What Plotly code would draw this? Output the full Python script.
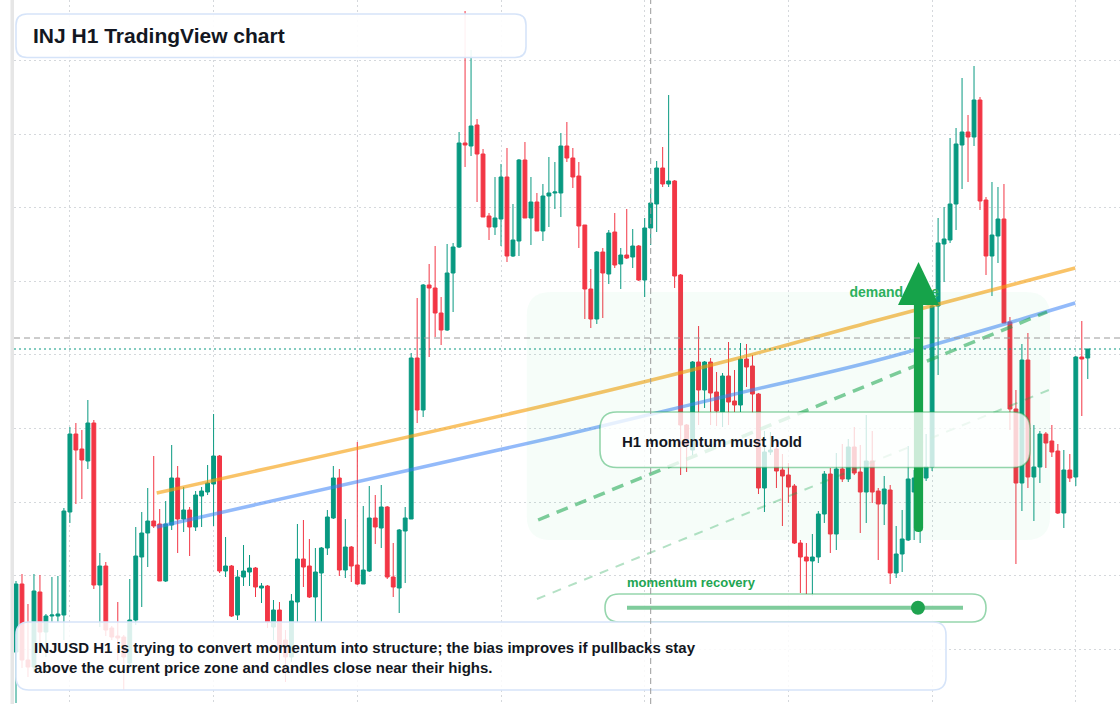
import plotly.graph_objects as go
import pandas as pd

# ---------------- data ----------------
START = "2025-03-10 15:00"
N_CANDLES = 180
times = pd.date_range(START, periods=N_CANDLES, freq="h")

open_ = [13.348, 13.416, 13.340, 13.333, 13.408, 13.368, 13.384, 13.384, 13.385, 13.488,
         13.566, 13.551, 13.539, 13.577, 13.415, 13.434, 13.372, 13.364, 13.363, 13.337,
         13.380, 13.443, 13.467, 13.479, 13.476, 13.419, 13.475, 13.522, 13.481, 13.490,
         13.473, 13.504, 13.508, 13.516, 13.544, 13.429, 13.434, 13.385, 13.423, 13.428,
         13.432, 13.412, 13.414, 13.373, 13.390, 13.360, 13.343, 13.398, 13.441, 13.434,
         13.403, 13.427, 13.452, 13.482, 13.522, 13.430, 13.453, 13.435, 13.416, 13.429,
         13.482, 13.472, 13.493, 13.423, 13.412, 13.469, 13.481, 13.642, 13.590, 13.715,
         13.712, 13.687, 13.670, 13.727, 13.753, 13.857, 13.854, 13.875, 13.846, 13.784,
         13.773, 13.781, 13.823, 13.744, 13.759, 13.840, 13.782, 13.798, 13.769, 13.804,
         13.807, 13.807, 13.854, 13.842, 13.824, 13.775, 13.711, 13.681, 13.748, 13.726,
         13.768, 13.736, 13.745, 13.743, 13.754, 13.720, 13.772, 13.796, 13.832, 13.816,
         13.819, 13.725, 13.575, 13.550, 13.638, 13.610, 13.638, 13.608, 13.588, 13.624,
         13.599, 13.595, 13.641, 13.634, 13.606, 13.512, 13.548, 13.551, 13.530, 13.525,
         13.514, 13.457, 13.443, 13.439, 13.443, 13.486, 13.526, 13.466, 13.531, 13.521,
         13.553, 13.528, 13.508, 13.539, 13.509, 13.496, 13.510, 13.427, 13.446, 13.460,
         13.508, 13.515, 13.522, 13.533, 13.694, 13.756, 13.760, 13.796, 13.855, 13.868,
         13.863, 13.900, 13.800, 13.744, 13.764, 13.781, 13.678, 13.591, 13.517, 13.640,
         13.523, 13.533, 13.566, 13.559, 13.549, 13.487, 13.530, 13.523, 13.643, 13.642]

high = [13.419, 13.426, 13.396, 13.426, 13.425, 13.386, 13.423, 13.424, 13.492, 13.573,
        13.577, 13.570, 13.600, 13.580, 13.447, 13.438, 13.374, 13.398, 13.365, 13.421,
        13.473, 13.488, 13.512, 13.544, 13.491, 13.499, 13.555, 13.534, 13.513, 13.493,
        13.509, 13.513, 13.535, 13.586, 13.545, 13.463, 13.435, 13.430, 13.455, 13.445,
        13.433, 13.417, 13.415, 13.400, 13.398, 13.370, 13.406, 13.476, 13.480, 13.461,
        13.452, 13.453, 13.490, 13.534, 13.531, 13.481, 13.454, 13.558, 13.494, 13.514,
        13.505, 13.515, 13.494, 13.457, 13.471, 13.493, 13.647, 13.702, 13.716, 13.736,
        13.754, 13.703, 13.756, 13.757, 13.868, 13.989, 13.950, 13.881, 13.851, 13.787,
        13.823, 13.836, 13.852, 13.796, 13.841, 13.858, 13.823, 13.807, 13.816, 13.843,
        13.838, 13.867, 13.878, 13.852, 13.838, 13.775, 13.731, 13.749, 13.752, 13.770,
        13.787, 13.752, 13.791, 13.771, 13.755, 13.782, 13.811, 13.839, 13.853, 13.905,
        13.820, 13.726, 13.576, 13.639, 13.674, 13.639, 13.642, 13.628, 13.627, 13.658,
        13.630, 13.657, 13.656, 13.645, 13.607, 13.569, 13.568, 13.560, 13.546, 13.537,
        13.516, 13.460, 13.457, 13.466, 13.489, 13.529, 13.532, 13.547, 13.556, 13.561,
        13.573, 13.555, 13.585, 13.569, 13.512, 13.524, 13.515, 13.474, 13.490, 13.554,
        13.530, 13.532, 13.566, 13.700, 13.782, 13.793, 13.862, 13.872, 13.922, 13.885,
        13.934, 13.903, 13.803, 13.818, 13.813, 13.816, 13.683, 13.610, 13.656, 13.667,
        13.575, 13.569, 13.568, 13.575, 13.556, 13.550, 13.546, 13.644, 13.679, 13.651]

low = [13.297, 13.332, 13.323, 13.328, 13.352, 13.343, 13.378, 13.378, 13.360, 13.477,
       13.496, 13.501, 13.531, 13.411, 13.373, 13.364, 13.360, 13.340, 13.310, 13.335,
       13.375, 13.393, 13.433, 13.472, 13.419, 13.418, 13.470, 13.447, 13.468, 13.444,
       13.469, 13.473, 13.505, 13.474, 13.427, 13.423, 13.383, 13.380, 13.414, 13.414,
       13.403, 13.397, 13.372, 13.360, 13.340, 13.318, 13.338, 13.378, 13.413, 13.402,
       13.378, 13.378, 13.445, 13.481, 13.424, 13.422, 13.418, 13.415, 13.416, 13.428,
       13.456, 13.452, 13.421, 13.403, 13.387, 13.417, 13.481, 13.577, 13.583, 13.643,
       13.663, 13.655, 13.669, 13.688, 13.752, 13.833, 13.844, 13.798, 13.783, 13.760,
       13.765, 13.754, 13.738, 13.743, 13.744, 13.782, 13.755, 13.769, 13.759, 13.773,
       13.791, 13.783, 13.838, 13.812, 13.752, 13.681, 13.672, 13.676, 13.682, 13.716,
       13.732, 13.711, 13.741, 13.732, 13.719, 13.703, 13.755, 13.768, 13.813, 13.813,
       13.712, 13.525, 13.528, 13.545, 13.575, 13.592, 13.575, 13.574, 13.573, 13.575,
       13.588, 13.588, 13.613, 13.587, 13.506, 13.488, 13.545, 13.512, 13.474, 13.497,
       13.456, 13.407, 13.406, 13.404, 13.437, 13.477, 13.447, 13.450, 13.518, 13.518,
       13.525, 13.467, 13.477, 13.497, 13.440, 13.475, 13.416, 13.422, 13.428, 13.459,
       13.460, 13.457, 13.519, 13.529, 13.625, 13.718, 13.757, 13.770, 13.811, 13.818,
       13.854, 13.790, 13.725, 13.704, 13.737, 13.677, 13.570, 13.436, 13.489, 13.512,
       13.479, 13.517, 13.532, 13.543, 13.486, 13.472, 13.518, 13.514, 13.584, 13.621]

close = [13.416, 13.340, 13.333, 13.409, 13.368, 13.384, 13.385, 13.386, 13.489, 13.566,
         13.550, 13.540, 13.577, 13.415, 13.434, 13.370, 13.363, 13.362, 13.343, 13.380,
         13.444, 13.467, 13.479, 13.474, 13.419, 13.476, 13.522, 13.481, 13.490, 13.473,
         13.505, 13.509, 13.517, 13.544, 13.429, 13.434, 13.384, 13.423, 13.429, 13.432,
         13.413, 13.414, 13.378, 13.390, 13.350, 13.343, 13.399, 13.441, 13.433, 13.403,
         13.428, 13.452, 13.483, 13.522, 13.430, 13.453, 13.434, 13.416, 13.430, 13.482,
         13.473, 13.493, 13.423, 13.413, 13.470, 13.482, 13.642, 13.590, 13.715, 13.712,
         13.687, 13.670, 13.727, 13.753, 13.857, 13.855, 13.874, 13.846, 13.783, 13.773,
         13.782, 13.823, 13.744, 13.760, 13.840, 13.782, 13.798, 13.769, 13.804, 13.807,
         13.808, 13.854, 13.842, 13.823, 13.774, 13.711, 13.681, 13.748, 13.727, 13.767,
         13.735, 13.745, 13.742, 13.754, 13.720, 13.772, 13.797, 13.832, 13.816, 13.819,
         13.724, 13.575, 13.555, 13.638, 13.610, 13.638, 13.607, 13.589, 13.624, 13.598,
         13.595, 13.641, 13.633, 13.606, 13.512, 13.548, 13.550, 13.529, 13.524, 13.513,
         13.457, 13.443, 13.439, 13.443, 13.486, 13.526, 13.466, 13.531, 13.521, 13.553,
         13.527, 13.508, 13.539, 13.508, 13.496, 13.511, 13.427, 13.446, 13.461, 13.521,
         13.522, 13.524, 13.533, 13.694, 13.757, 13.761, 13.796, 13.856, 13.868, 13.863,
         13.900, 13.799, 13.744, 13.765, 13.781, 13.677, 13.591, 13.517, 13.640, 13.523,
         13.533, 13.566, 13.557, 13.548, 13.487, 13.530, 13.522, 13.643, 13.641, 13.651]

# trend lines (hours since START, price)
orange_hours = [23.5, 90.9, 119.4, 144.0, 176.9]
orange_price = [13.507, 13.598, 13.640, 13.680, 13.732]
blue_hours = [23.5, 90.9, 119.4, 144.0, 176.9]
blue_price = [13.473, 13.564, 13.605, 13.640, 13.697]
channel_hours = [87.2, 172.2]
channel_price = [13.480, 13.688]
channel2_hours = [87.0, 172.5]
channel2_price = [13.401, 13.610]

demand_hours = [85.3, 172.7]
demand_price = [13.460, 13.708]
demand_label_hours = 139.2
demand_label_price = 13.707

arrow_hour = 150.73
arrow_base_price = 13.468
arrow_tip_price = 13.738

cross_hour = 106
cross_price = 13.662

momentum_value = 0.866

grid_times = pd.date_range("2025-03-11", periods=8, freq="D")
grid_prices = [13.940, 13.866, 13.793, 13.719, 13.646, 13.572, 13.498, 13.425, 13.351]

TITLE = "INJ H1 TradingView chart"
NOTE = ("INJUSD H1 is trying to convert momentum into structure; the bias improves if pullbacks stay"
        "<br>above the current price zone and candles close near their highs.")
HOLD_TEXT = "H1 momentum must hold"
MOMENTUM_LABEL = "momentum recovery"
DEMAND_LABEL = "demand zone"

# ---------------- geometry helpers ----------------
W, H = 1120, 704
PX_L = 14
PX_W = W - PX_L
X_LO, X_HI = -0.334, 184.38
Y_LO, Y_HI = 13.296, 14.0
t0 = pd.Timestamp(START)


def t_at(h):
    return t0 + pd.to_timedelta(h, unit="h")


def hx(h):
    return (h - X_LO) / (X_HI - X_LO)


def py_(p):
    return (p - Y_LO) / (Y_HI - Y_LO)


def pxx(x):
    return (x - PX_L) / PX_W


def pxy(y):
    return 1 - y / H


def rr_path(x0, y0, x1, y1, r):
    rx, ry = r / PX_W, r / H
    return (f"M{x0+rx},{y1} L{x1-rx},{y1} Q{x1},{y1} {x1},{y1-ry} "
            f"L{x1},{y0+ry} Q{x1},{y0} {x1-rx},{y0} L{x0+rx},{y0} "
            f"Q{x0},{y0} {x0},{y0+ry} L{x0},{y1-ry} Q{x0},{y1} {x0+rx},{y1} Z")


def px_box(l, t, r, b, rad):
    return rr_path(pxx(l), pxy(b), pxx(r), pxy(t), rad)


GREEN = "#089981"
RED = "#f23645"
FONT = "Liberation Sans, Arial, sans-serif"
DARK = "#131722"
ZONE_GREEN = "#16a34a"

fig = go.Figure()

fig.add_trace(go.Candlestick(
    x=times, open=open_, high=high, low=low, close=close,
    increasing=dict(line=dict(color=GREEN, width=1), fillcolor=GREEN),
    decreasing=dict(line=dict(color=RED, width=1), fillcolor=RED),
    whiskerwidth=0, hoverinfo="skip", showlegend=False,
))

fig.add_trace(go.Scatter(x=[t_at(h) for h in orange_hours], y=orange_price, mode="lines",
                         line=dict(color="rgba(245,158,11,0.62)", width=3.5, shape="spline"),
                         hoverinfo="skip", showlegend=False))
fig.add_trace(go.Scatter(x=[t_at(h) for h in blue_hours], y=blue_price, mode="lines",
                         line=dict(color="rgba(59,130,246,0.55)", width=3.5, shape="spline"),
                         hoverinfo="skip", showlegend=False))
fig.add_trace(go.Scatter(x=[t_at(h) for h in channel_hours], y=channel_price, mode="lines",
                         line=dict(color="rgba(22,163,74,0.55)", width=3.5, dash="12px,8px"),
                         hoverinfo="skip", showlegend=False))
fig.add_trace(go.Scatter(x=[t_at(h) for h in channel2_hours], y=channel2_price, mode="lines",
                         line=dict(color="rgba(22,163,74,0.32)", width=2, dash="9px,8px"),
                         hoverinfo="skip", showlegend=False))
fig.add_trace(go.Scatter(x=[t_at(demand_label_hours)], y=[demand_label_price], mode="text",
                         text=[f"<b>{DEMAND_LABEL}</b>"], textposition="middle right",
                         textfont=dict(family=FONT, size=14, color="#2db05c"),
                         hoverinfo="skip", showlegend=False))

shapes = []
# left gray bar
shapes.append(dict(type="rect", xref="paper", yref="paper", x0=pxx(10.5), x1=pxx(14), y0=0, y1=1,
                   fillcolor="#e6e6e6", line=dict(width=0), layer="above"))
# demand zone
shapes.append(dict(type="path", xref="paper", yref="paper",
                   path=rr_path(hx(demand_hours[0]), py_(demand_price[0]),
                                hx(demand_hours[1]), py_(demand_price[1]), 24),
                   fillcolor="rgba(34,197,94,0.04)", line=dict(width=0), layer="above"))
# last price line
shapes.append(dict(type="line", xref="paper", yref="y", x0=0, x1=1, y0=close[-1], y1=close[-1],
                   line=dict(color=GREEN, width=1, dash="2px,3px"), layer="above"))
# arrow
cx = hx(arrow_hour)
hw = 4.6 / PX_W
head_hw = 20.5 / PX_W
tip = py_(arrow_tip_price)
head_base = tip - 43 / H
bot = py_(arrow_base_price)
rb = 4.6 / H
shapes.append(dict(type="path", xref="paper", yref="paper",
                   path=(f"M{cx-hw},{head_base+0.002} L{cx+hw},{head_base+0.002} L{cx+hw},{bot+rb} "
                         f"Q{cx+hw},{bot} {cx},{bot} Q{cx-hw},{bot} {cx-hw},{bot+rb} Z"),
                   fillcolor=ZONE_GREEN, line=dict(width=0), layer="above"))
shapes.append(dict(type="path", xref="paper", yref="paper",
                   path=f"M{cx-head_hw},{head_base} L{cx+head_hw},{head_base} L{cx},{tip} Z",
                   fillcolor=ZONE_GREEN, line=dict(width=0), layer="above"))
# H1 momentum box
shapes.append(dict(type="path", xref="paper", yref="paper", path=px_box(600, 412, 1030, 467.5, 17),
                   fillcolor="rgba(255,255,255,0.78)", line=dict(color="rgba(22,163,74,0.45)", width=1.6),
                   layer="above"))
# momentum slider
shapes.append(dict(type="path", xref="paper", yref="paper", path=px_box(605, 594, 986, 622, 14),
                   fillcolor="rgba(255,255,255,0.9)", line=dict(color="rgba(22,163,74,0.45)", width=1.6),
                   layer="above"))
tr_l, tr_r, tr_y = 627, 963, 607.7
shapes.append(dict(type="line", xref="paper", yref="paper", x0=pxx(tr_l), x1=pxx(tr_r),
                   y0=pxy(tr_y), y1=pxy(tr_y), line=dict(color="rgba(22,163,74,0.55)", width=4),
                   layer="above"))
knob_x = tr_l + momentum_value * (tr_r - tr_l)
shapes.append(dict(type="circle", xref="paper", yref="paper", x0=pxx(knob_x - 7), x1=pxx(knob_x + 7),
                   y0=pxy(tr_y + 7), y1=pxy(tr_y - 7), fillcolor="#1fa34f", line=dict(width=0),
                   layer="above"))
# title box
shapes.append(dict(type="path", xref="paper", yref="paper", path=px_box(16, 14, 526, 57.5, 11),
                   fillcolor="rgba(255,255,255,0.92)", line=dict(color="#d6e4f9", width=1.6),
                   layer="above"))
# note box
shapes.append(dict(type="path", xref="paper", yref="paper", path=px_box(16, 622, 946, 690, 13),
                   fillcolor="rgba(255,255,255,0.85)", line=dict(color="#d6e4f9", width=1.6),
                   layer="above"))
# crosshair
shapes.append(dict(type="line", xref="x", yref="paper", x0=t_at(cross_hour), x1=t_at(cross_hour),
                   y0=0, y1=1, line=dict(color="#9a9a9a", width=1, dash="6px,4px"), layer="above"))
shapes.append(dict(type="line", xref="paper", yref="y", x0=0, x1=1, y0=cross_price, y1=cross_price,
                   line=dict(color="#9a9a9a", width=1, dash="6px,4px"), layer="above"))

annotations = [
    dict(xref="paper", yref="paper", x=pxx(30.5), y=pxy(35.5), xanchor="left", yanchor="middle",
         text=f"<b>{TITLE}</b>", showarrow=False, font=dict(family=FONT, size=21, color=DARK)),
    dict(xref="paper", yref="paper", x=pxx(32), y=pxy(657), xanchor="left", yanchor="middle",
         align="left", text=f"<b>{NOTE}</b>", showarrow=False,
         font=dict(family=FONT, size=15, color=DARK)),
    dict(xref="paper", yref="paper", x=pxx(620), y=pxy(441), xanchor="left", yanchor="middle",
         text=f"<b>{HOLD_TEXT}</b>", showarrow=False, font=dict(family=FONT, size=15, color=DARK)),
    dict(xref="paper", yref="paper", x=pxx(625), y=pxy(582.5), xanchor="left", yanchor="middle",
         text=f"<b>{MOMENTUM_LABEL}</b>", showarrow=False,
         font=dict(family=FONT, size=13, color="#22a552")),
]

fig.update_layout(
    width=W, height=H,
    margin=dict(l=PX_L, r=0, t=0, b=0),
    paper_bgcolor="white", plot_bgcolor="white",
    showlegend=False, shapes=shapes, annotations=annotations,
    boxgap=0.2, boxgroupgap=0.2,
    xaxis=dict(type="date", range=[t_at(X_LO), t_at(X_HI)], tickvals=list(grid_times),
               showticklabels=False, showgrid=True, gridcolor="#d5d8dc", griddash="2px,3px",
               gridwidth=1, zeroline=False, showline=False, ticks="",
               rangeslider=dict(visible=False), fixedrange=True),
    yaxis=dict(range=[Y_LO, Y_HI], tickvals=grid_prices, showticklabels=False, showgrid=True,
               gridcolor="#d5d8dc", griddash="2px,3px", gridwidth=1, zeroline=False,
               showline=False, ticks="", fixedrange=True),
)

fig.write_html("out.html")
